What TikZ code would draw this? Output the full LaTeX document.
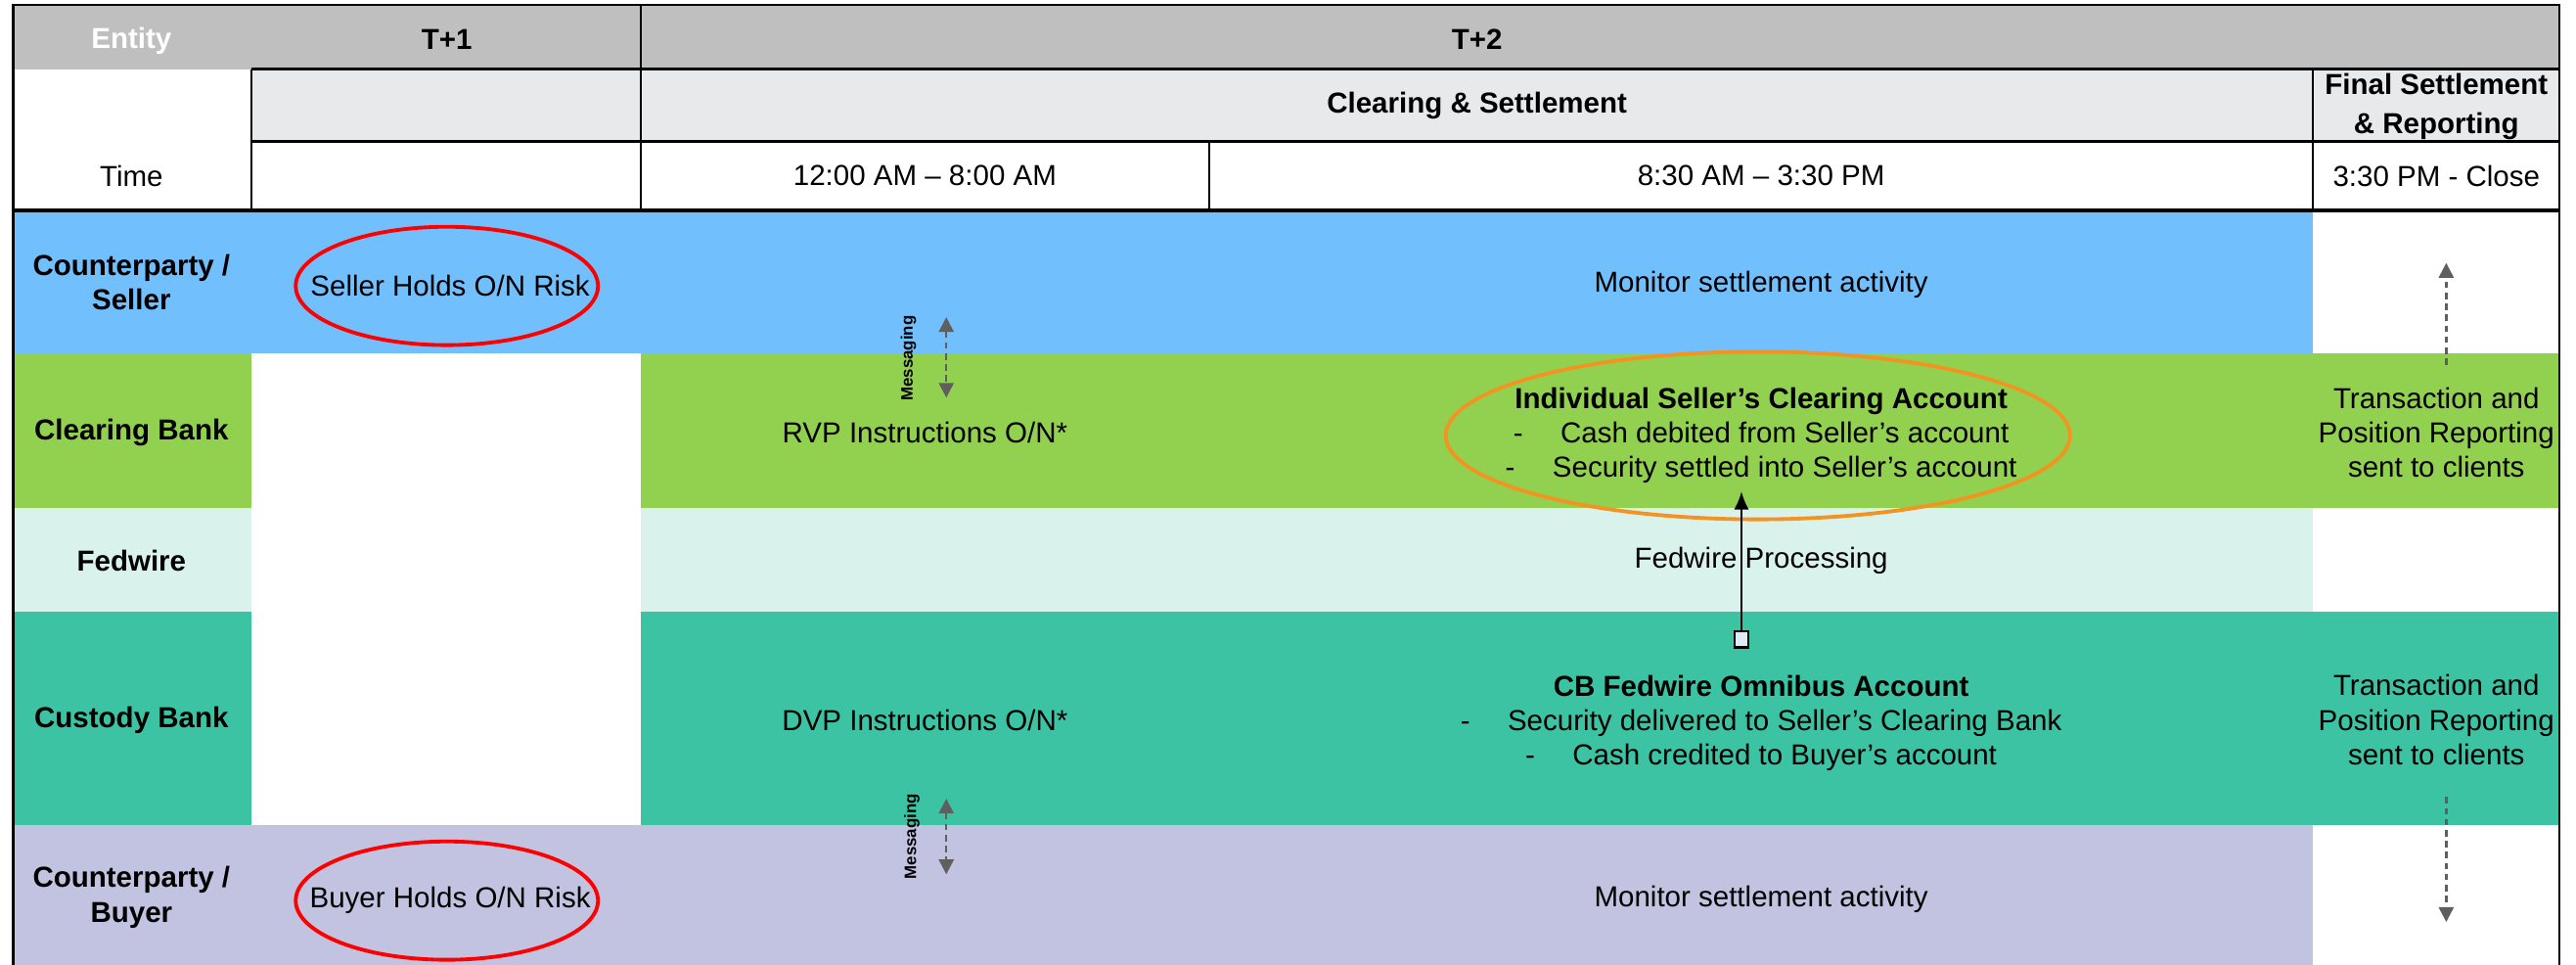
\documentclass[tikz,border=0pt]{standalone}
\usepackage{fontspec}
\setmainfont{Liberation Sans}
\usepackage{tikz}
\usetikzlibrary{shapes.geometric,arrows.meta}
\usepackage{xcolor}
\definecolor{headgray}{HTML}{BFBFBF}
\definecolor{subgray}{HTML}{E8E9EB}
\definecolor{sellerblue}{HTML}{72BFFE}
\definecolor{clrgreen}{HTML}{92D050}
\definecolor{fedmint}{HTML}{D9F2EC}
\definecolor{custteal}{HTML}{3CC3A3}
\definecolor{buyerlav}{HTML}{C1C3E1}
\definecolor{msggray}{HTML}{5F5F5F}
\definecolor{ringorange}{HTML}{F39422}
\definecolor{boxblue}{HTML}{DDEBF7}

\begin{document}
\begin{tikzpicture}[x=0.2mm,y=-0.2mm,
  every node/.style={font=\fontsize{10}{11.9}\selectfont, align=center, inner sep=0pt},
  entity/.style={font=\fontsize{10}{11.9}\selectfont\bfseries},
  grid/.style={black, line width=0.75pt},
  riskring/.style={draw=red, line width=1.3pt},
  msglabel/.style={font=\fontsize{5.7}{6}\selectfont\bfseries, rotate=90},
  msgarrow/.style={msggray, line width=0.8pt, dash pattern=on 2.2pt off 1.6pt,
    {Triangle[length=1.8mm,width=1.8mm]}-{Triangle[length=1.8mm,width=1.8mm]}},
  rptarrow/.style={msggray, line width=0.8pt, dash pattern=on 2.2pt off 1.6pt,
    -{Triangle[length=1.8mm,width=1.8mm]}}]
\useasboundingbox (0,0) rectangle (1568,587);

% Header fills
\fill[headgray] (8,3) rectangle (1558,42);
\fill[subgray] (153,42) rectangle (1558,86);

% Row fills (T+1 column and final column partly white)
\fill[sellerblue] (8,128) rectangle (1408,215);
\fill[clrgreen] (8,215) rectangle (153,309);
\fill[clrgreen] (390,215) rectangle (1558,309);
\fill[fedmint] (8,309) rectangle (153,372);
\fill[fedmint] (390,309) rectangle (1408,372);
\fill[custteal] (8,372) rectangle (153,502);
\fill[custteal] (390,372) rectangle (1558,502);
\fill[buyerlav] (8,502) rectangle (1408,587);

% Table lines
\draw[grid] (8,587) -- (8,3) -- (1558,3) -- (1558,587);
\draw[grid] (153,42) -- (1558,42);
\draw[grid] (153,86) -- (1558,86);
\draw[grid, line width=1.2pt] (8,128) -- (1558,128);
\draw[grid] (153,42) -- (153,128);
\draw[grid] (390,3) -- (390,128);
\draw[grid] (736,86) -- (736,128);
\draw[grid] (1408,42) -- (1408,128);

% Header texts
\node[entity, text=white] (hentity) at (80,25) {Entity};
\node[entity] (htone) at (272,24) {T+1};
\node[entity] (httwo) at (899,24) {T+2};
\node[entity] (hclear) at (899,64) {Clearing \& Settlement};
\node[entity] (hfinal) at (1483,65) {Final Settlement\\[1.5pt]\& Reporting};
\node (htime) at (80,107) {Time};
\node (hnight) at (563,107) {12:00 AM -- 8:00 AM};
\node (hday) at (1072,107) {8:30 AM -- 3:30 PM};
\node (hclose) at (1483,107) {3:30 PM - Close};

% Entity labels
\node[entity] (seller) at (80,172) {Counterparty /\\Seller};
\node[entity] (clrbank) at (80,263) {Clearing Bank};
\node[entity] (fedwire) at (80,341) {Fedwire};
\node[entity] (custbank) at (80,438) {Custody Bank};
\node[entity] (buyer) at (80,546) {Counterparty /\\Buyer};

% Overnight risk
\node (sellerrisk) at (274,174) {Seller Holds O/N Risk};
\draw[riskring] (272,174) ellipse [x radius=92, y radius=36];
\node (buyerrisk) at (274,548) {Buyer Holds O/N Risk};
\draw[riskring] (272,548) ellipse [x radius=92, y radius=36];

% Instructions and monitoring
\node (sellermon) at (1072,173) {Monitor settlement activity};
\node (buyermon) at (1072,547) {Monitor settlement activity};
\node (rvp) at (563,263) {RVP Instructions O/N*};
\node (dvp) at (563,438) {DVP Instructions O/N*};
\node (fedproc) at (1072,341) {Fedwire Processing};

% Messaging between counterparties and banks
\node[msglabel] (msgsell) at (553,218) {Messaging};
\coordinate (msgsella) at (576,193);
\coordinate (msgsellb) at (576,242);
\draw[msgarrow] (msgsella) -- (msgsellb);
\node[msglabel] (msgbuy) at (555,509) {Messaging};
\coordinate (msgbuya) at (576,486);
\coordinate (msgbuyb) at (576,532);
\draw[msgarrow] (msgbuya) -- (msgbuyb);

% Accounts
\node (iscatext) at (1072,265) {\textbf{Individual Seller’s Clearing Account}\\
  -\hspace{1.3em}Cash debited from Seller’s account\\
  -\hspace{1.3em}Security settled into Seller’s account};
\draw[ringorange, line width=1.3pt] (1070,265) ellipse [x radius=190, y radius=51];
\node (cbtext) at (1072,440) {\textbf{CB Fedwire Omnibus Account}\\
  -\hspace{1.3em}Security delivered to Seller’s Clearing Bank\\
  -\hspace{1.3em}Cash credited to Buyer’s account};
\node[draw, fill=boxblue, line width=0.8pt, minimum width=1.6mm, minimum height=2mm] (omnibox) at (1060,389) {};
\coordinate (iscain) at (1060,299);
\draw[-{Latex[length=2.2mm,width=1.8mm]}, line width=0.8pt] (omnibox) -- (iscain);

% Final reporting
\node (rptclr) at (1483,263) {Transaction and\\Position Reporting\\sent to clients};
\node (rptcust) at (1483,438) {Transaction and\\Position Reporting\\sent to clients};
\coordinate (rptuptail) at (1489,222);
\coordinate (rptuptip) at (1489,160);
\draw[rptarrow] (rptuptail) -- (rptuptip);
\coordinate (rptdowntail) at (1489,485);
\coordinate (rptdowntip) at (1489,561);
\draw[rptarrow] (rptdowntail) -- (rptdowntip);
\end{tikzpicture}
\end{document}
